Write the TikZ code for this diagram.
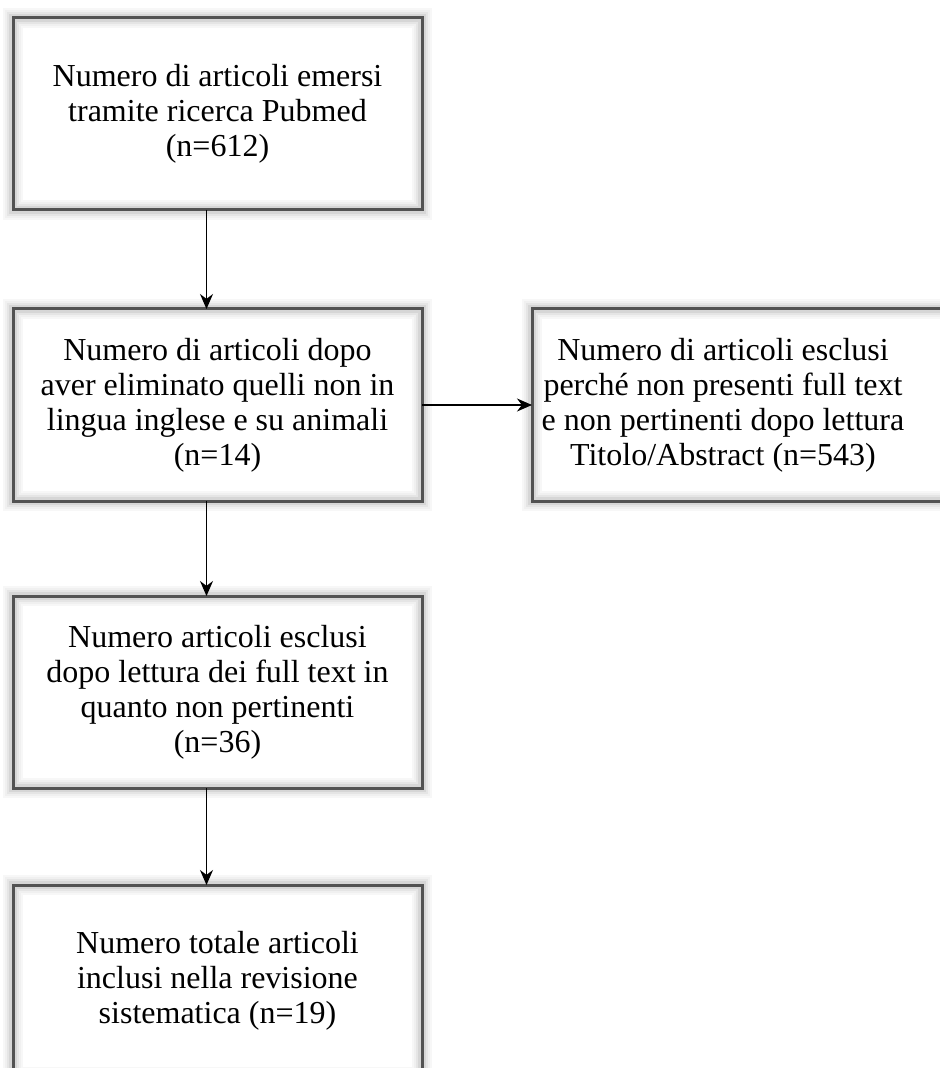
\documentclass[tikz,border=0pt]{standalone}
\usepackage{fontspec}
\setmainfont{Liberation Serif}
\usetikzlibrary{positioning,arrows.meta}

\begin{document}
\begin{tikzpicture}[x=0.5pt, y=-0.5pt, node distance=48pt,
    box/.style={fill=white, outer sep=0pt, inner sep=0pt, minimum width=204.5pt, minimum height=96pt,
      align=center, font=\fontsize{16}{17.5}\selectfont,
      postaction={draw=black!3, line width=10pt},
      postaction={draw=black!6, line width=8pt},
      postaction={draw=black!10, line width=6pt},
      postaction={draw=black!16, line width=4pt},
      postaction={draw=black!68, line width=1.5pt}},
    lbl/.style={align=center, font=\fontsize{16}{17.5}\selectfont},
    freccia/.style={-{Stealth[length=7.5pt,width=6.5pt]}, line width=0.6pt}]
    \useasboundingbox (0,0) rectangle (939,1068);
    \node[box] (emersi) at (217.5,114) {Numero di articoli emersi\\tramite ricerca Pubmed\\(n=612)};
    \node[box] (dopo) [below=49.5pt of emersi] {Numero di articoli dopo\\aver eliminato quelli non in\\lingua inglese e su animali\\(n=14)};
    \node[box] (fulltext) [below=47.5pt of dopo] {Numero articoli esclusi\\dopo lettura dei full text in\\quanto non pertinenti\\(n=36)};
    \node[box] (totale) [below=48.5pt of fulltext] {Numero totale articoli\\inclusi nella revisione\\sistematica (n=19)};
    \node[box, minimum width=210pt] (abstract) [right=55pt of dopo] {};
    \node[lbl] (abstracttxt) at ([xshift=95.5pt]abstract.west) {Numero di articoli esclusi\\perché non presenti full text\\e non pertinenti dopo lettura\\Titolo/Abstract (n=543)};
    \draw[freccia] ([xshift=-5.5pt]emersi.south) -- ([xshift=-5.5pt]dopo.north);
    \draw[freccia] ([xshift=-5.5pt]dopo.south) -- ([xshift=-5.5pt]fulltext.north);
    \draw[freccia] ([xshift=-5.5pt]fulltext.south) -- ([xshift=-5.5pt]totale.north);
    \draw[freccia] (dopo) -- (abstract);
  \end{tikzpicture}
\end{document}
